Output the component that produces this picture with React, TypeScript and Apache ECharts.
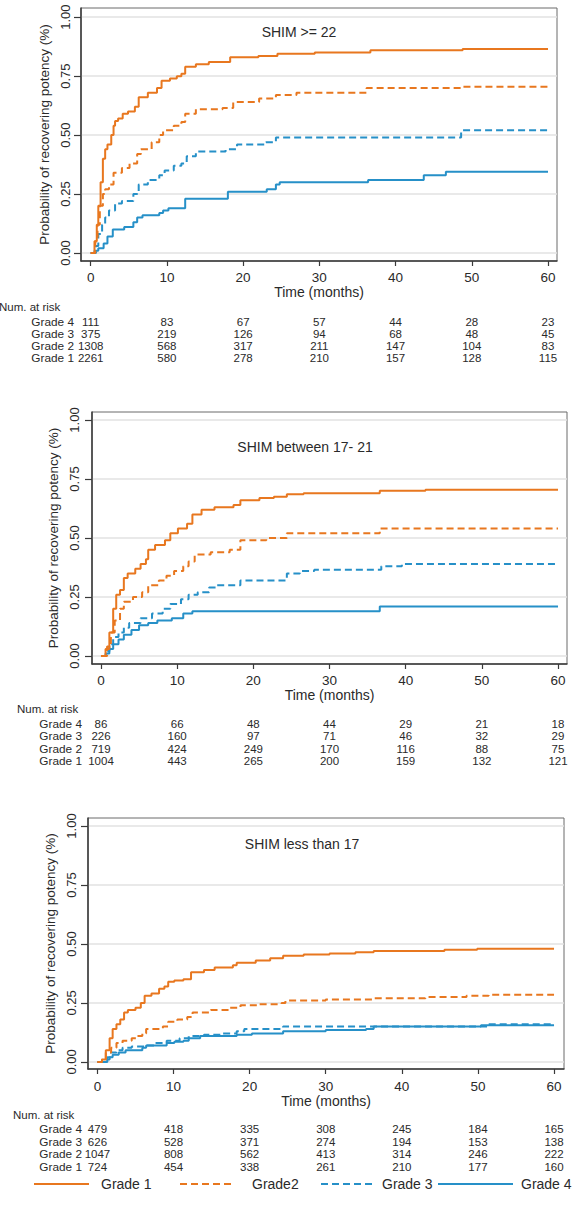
import React, { useEffect, useRef } from "react";
import * as echarts from "echarts";

const FONT = "'Liberation Sans', Arial, Helvetica, sans-serif";
const ORANGE = "#E8771F";
const BLUE = "#2690C8";
const TEXT = "#2a2a2a";

const gradeNames = ["Grade 1", "Grade 2", "Grade 3", "Grade 4"];
const riskTimes = [0, 10, 20, 30, 40, 50, 60];
const xTicks = [0, 10, 20, 30, 40, 50, 60];
const yTicks = [0, 0.25, 0.5, 0.75, 1];
const panelTitles = ["SHIM >= 22", "SHIM between 17- 21", "SHIM less than 17"];
const yTitle = "Probability of recovering potency (%)";
const xTitle = "Time (months)";
const riskTitle = "Num. at risk";

// Panel 1: SHIM >= 22  [months, probability]
const p1Grade1 = [[0,0],[0.5,0.05],[0.8,0.12],[1.0,0.2],[1.3,0.3],[1.6,0.4],[1.9,0.44],[2.2,0.46],[2.7,0.5],[3.0,0.54],[3.2,0.56],[3.6,0.57],[4.2,0.59],[4.9,0.6],[5.8,0.62],[6.3,0.66],[7.5,0.68],[8.7,0.7],[9.3,0.73],[10.4,0.74],[11.3,0.75],[11.9,0.76],[12.4,0.79],[13.8,0.8],[15.5,0.81],[18.3,0.83],[22,0.835],[24.5,0.845],[29.4,0.85],[36.7,0.86],[48.8,0.865],[60,0.867]];
const p1Grade2 = [[0,0],[0.6,0.05],[0.9,0.12],[1.2,0.2],[1.6,0.25],[1.9,0.27],[2.4,0.29],[3.0,0.34],[4.1,0.36],[5.1,0.38],[6.1,0.42],[6.6,0.44],[8.0,0.47],[9.0,0.5],[9.5,0.52],[10.9,0.54],[11.9,0.555],[12.4,0.59],[13.8,0.61],[17.3,0.615],[18.7,0.64],[22.1,0.655],[24.3,0.67],[27,0.68],[36.2,0.7],[48.6,0.705],[60,0.705]];
const p1Grade3 = [[0,0],[0.7,0.03],[1.0,0.08],[1.5,0.12],[1.9,0.15],[2.4,0.18],[3.2,0.21],[4.1,0.22],[5.6,0.25],[6.3,0.29],[7.5,0.31],[9.0,0.33],[9.7,0.35],[10.9,0.37],[11.9,0.38],[12.6,0.41],[13.8,0.43],[17.7,0.44],[19.2,0.46],[23,0.47],[24.3,0.49],[48.6,0.52],[60,0.52]];
const p1Grade4 = [[0,0],[0.5,0.01],[1.0,0.02],[1.7,0.04],[2.2,0.07],[2.9,0.1],[4.4,0.11],[5.6,0.13],[6.1,0.15],[6.8,0.16],[9.0,0.17],[9.5,0.18],[10.2,0.19],[12.4,0.23],[18,0.26],[23.1,0.27],[24.3,0.29],[24.8,0.3],[36.4,0.31],[43.7,0.33],[46.6,0.345],[60,0.345]];

// Panel 2: SHIM between 17-21
const p2Grade1 = [[0,0],[0.6,0.03],[1.1,0.1],[1.6,0.2],[2.0,0.26],[2.5,0.28],[3.0,0.33],[3.5,0.35],[4.5,0.37],[5.2,0.39],[5.9,0.41],[6.2,0.45],[7.1,0.47],[8.4,0.49],[9.1,0.52],[10.1,0.54],[11.3,0.56],[12.0,0.6],[13.2,0.62],[14.9,0.63],[17.4,0.64],[18.3,0.66],[20.8,0.67],[22.7,0.675],[24.4,0.685],[26.6,0.69],[36.6,0.7],[42.6,0.705],[60,0.705]];
const p2Grade2 = [[0,0],[0.8,0.04],[1.3,0.1],[1.8,0.15],[2.5,0.2],[3.0,0.23],[4.2,0.25],[5.4,0.27],[6.2,0.3],[7.6,0.32],[8.6,0.34],[9.6,0.36],[10.8,0.38],[11.5,0.4],[12.3,0.43],[14.4,0.44],[16.9,0.45],[18.3,0.49],[21.7,0.5],[24.4,0.52],[36.6,0.54],[60,0.54]];
const p2Grade3 = [[0,0],[0.7,0.02],[1.1,0.05],[1.6,0.08],[2.3,0.1],[3.0,0.12],[3.7,0.14],[5.2,0.16],[6.7,0.18],[8.1,0.2],[9.1,0.22],[10.5,0.24],[11.5,0.26],[12.7,0.27],[14.2,0.29],[15.2,0.3],[18.3,0.32],[24.4,0.35],[26.1,0.36],[28,0.365],[36.8,0.38],[39.5,0.39],[60,0.39]];
const p2Grade4 = [[0,0],[0.6,0.01],[1.1,0.03],[1.6,0.05],[2.3,0.07],[3.0,0.09],[4.0,0.11],[5.0,0.13],[6.2,0.14],[7.4,0.15],[9.3,0.16],[10.8,0.18],[12.0,0.19],[36.6,0.21],[60,0.21]];

// Panel 3: SHIM less than 17
const p3Grade1 = [[0,0],[0.6,0.01],[1.1,0.05],[1.6,0.1],[2.0,0.14],[2.5,0.16],[3.0,0.18],[3.5,0.21],[4.0,0.22],[5.0,0.23],[5.7,0.25],[6.2,0.28],[7.1,0.29],[8.1,0.31],[8.8,0.32],[9.3,0.34],[10.1,0.345],[11.3,0.35],[12.3,0.38],[14.0,0.39],[15.4,0.4],[17.8,0.41],[18.3,0.42],[20.8,0.43],[22.7,0.44],[24.4,0.45],[27.1,0.455],[30.5,0.46],[33.9,0.465],[36.3,0.47],[45.6,0.475],[49.9,0.48],[60,0.48]];
const p3Grade2 = [[0,0],[0.6,0.01],[1.1,0.04],[1.8,0.06],[2.5,0.08],[3.3,0.09],[4.5,0.1],[5.2,0.11],[5.9,0.12],[6.4,0.14],[8.6,0.15],[9.3,0.17],[10.5,0.18],[11.8,0.19],[12.5,0.21],[14.9,0.22],[17.4,0.23],[18.8,0.24],[21.2,0.245],[24.2,0.25],[24.7,0.26],[30,0.265],[36.3,0.27],[43.1,0.275],[48.5,0.28],[51.4,0.285],[60,0.285]];
const p3Grade3 = [[0,0],[0.8,0.01],[1.3,0.02],[1.8,0.04],[2.5,0.05],[3.3,0.06],[4.5,0.065],[6.2,0.07],[7.6,0.08],[9.1,0.09],[10.8,0.1],[12.0,0.11],[14.0,0.115],[16.4,0.12],[18.3,0.13],[19.3,0.14],[24.2,0.145],[24.4,0.15],[51.4,0.16],[60,0.16]];
const p3Grade4 = [[0,0],[1.3,0.01],[1.6,0.02],[2.0,0.03],[2.8,0.04],[3.7,0.05],[5.9,0.06],[6.4,0.07],[9.1,0.08],[10.1,0.085],[11.3,0.09],[12.0,0.1],[13.5,0.11],[18.3,0.115],[20.3,0.12],[24.4,0.13],[30,0.135],[35.3,0.14],[36.3,0.15],[50.4,0.155],[60,0.155]];

// Numbers at risk
const p1RiskGrade4 = [111, 83, 67, 57, 44, 28, 23];
const p1RiskGrade3 = [375, 219, 126, 94, 68, 48, 45];
const p1RiskGrade2 = [1308, 568, 317, 211, 147, 104, 83];
const p1RiskGrade1 = [2261, 580, 278, 210, 157, 128, 115];
const p2RiskGrade4 = [86, 66, 48, 44, 29, 21, 18];
const p2RiskGrade3 = [226, 160, 97, 71, 46, 32, 29];
const p2RiskGrade2 = [719, 424, 249, 170, 116, 88, 75];
const p2RiskGrade1 = [1004, 443, 265, 200, 159, 132, 121];
const p3RiskGrade4 = [479, 418, 335, 308, 245, 184, 165];
const p3RiskGrade3 = [626, 528, 371, 274, 194, 153, 138];
const p3RiskGrade2 = [1047, 808, 562, 413, 314, 246, 222];
const p3RiskGrade1 = [724, 454, 338, 261, 210, 177, 160];

const curves = [
  [p1Grade1, p1Grade2, p1Grade3, p1Grade4],
  [p2Grade1, p2Grade2, p2Grade3, p2Grade4],
  [p3Grade1, p3Grade2, p3Grade3, p3Grade4],
];
const risks = [
  [p1RiskGrade1, p1RiskGrade2, p1RiskGrade3, p1RiskGrade4],
  [p2RiskGrade1, p2RiskGrade2, p2RiskGrade3, p2RiskGrade4],
  [p3RiskGrade1, p3RiskGrade2, p3RiskGrade3, p3RiskGrade4],
];

// layout (pixels)
const layout = [
  { left: 81, top: 8, width: 476, height: 253, xMin: -1.27, xMax: 61.18, yMin: -0.034, yMax: 1.039,
    riskTop: 316, riskH: 48, riskMargin: 7, title: [299, 32], num: [-1, 307], yLabGap: 9, yNameGap: 24, xLabGap: 9, xNameGap: 23 },
  { left: 92, top: 412, width: 475, height: 252, xMin: -1.18, xMax: 61.18, yMin: -0.034, yMax: 1.034,
    riskTop: 718, riskH: 49, riskMargin: 10, title: [305, 447], num: [17, 709], yLabGap: 11, yNameGap: 25, xLabGap: 9, xNameGap: 22 },
  { left: 88, top: 818, width: 476, height: 251, xMin: -1.24, xMax: 61.31, yMin: -0.03, yMax: 1.034,
    riskTop: 1123, riskH: 50, riskMargin: 6, title: [302, 844], num: [13, 1115], yLabGap: 10, yNameGap: 24, xLabGap: 10, xNameGap: 24 },
];

const gradeStyle = [
  { color: ORANGE, type: "solid" },
  { color: ORANGE, type: [7, 4] },
  { color: BLUE, type: [7, 4] },
  { color: BLUE, type: "solid" },
];

function buildOption() {
  const grid: any[] = [];
  const xAxis: any[] = [];
  const yAxis: any[] = [];
  const series: any[] = [];
  const graphic: any[] = [];

  layout.forEach((L, p) => {
    grid.push({
      left: L.left, top: L.top, width: L.width, height: L.height,
      show: true, borderColor: "#6a6a6a", borderWidth: 1, backgroundColor: "transparent",
      containLabel: false,
    });
    xAxis.push({
      type: "value", gridIndex: p, min: L.xMin, max: L.xMax,
      name: xTitle, nameLocation: "middle", nameGap: L.xNameGap,
      nameTextStyle: { fontFamily: FONT, fontSize: 14, color: TEXT },
      axisLine: { show: true, onZero: false, lineStyle: { color: "#3a3a3a", width: 1.5 } },
      axisTick: { show: true, length: 5, customValues: xTicks, lineStyle: { color: "#3a3a3a", width: 1.2 } },
      axisLabel: { show: true, customValues: xTicks, margin: L.xLabGap, fontFamily: FONT, fontSize: 13.5, color: TEXT,
        formatter: (v: number) => String(Math.round(v)) },
      splitLine: { show: false },
    });
    yAxis.push({
      type: "value", gridIndex: p, min: L.yMin, max: L.yMax,
      name: yTitle, nameLocation: "middle", nameGap: L.yNameGap, nameRotate: 90,
      nameTextStyle: { fontFamily: FONT, fontSize: 13.5, color: TEXT },
      axisLine: { show: true, onZero: false, lineStyle: { color: "#3a3a3a", width: 1.5 } },
      axisTick: { show: true, length: 7, customValues: yTicks, lineStyle: { color: "#3a3a3a", width: 1.2 } },
      axisLabel: { show: true, customValues: yTicks, rotate: 90, margin: L.yLabGap, fontFamily: FONT, fontSize: 13, color: TEXT,
        formatter: (v: number) => v.toFixed(2) },
      splitLine: { show: true, lineStyle: { color: "#e2e2e2", width: 1.5 } },
    });
    curves[p].forEach((data, g) => {
      series.push({
        type: "line", name: gradeNames[g], xAxisIndex: p, yAxisIndex: p,
        data, step: "end", symbol: "none", showSymbol: false, silent: true,
        lineStyle: { color: gradeStyle[g].color, type: gradeStyle[g].type, width: 2 },
        itemStyle: { color: gradeStyle[g].color },
        z: 5 - g,
      });
    });
    graphic.push({
      type: "text", x: L.title[0], y: L.title[1],
      style: { text: panelTitles[p], fontFamily: FONT, fontSize: 14, fill: TEXT, align: "center", verticalAlign: "middle" },
    });
    graphic.push({
      type: "text", x: L.num[0], y: L.num[1],
      style: { text: riskTitle, fontFamily: FONT, fontSize: 11.5, fill: TEXT, align: "left", verticalAlign: "middle" },
    });
  });

  // risk tables
  layout.forEach((L, p) => {
    const gi = 3 + p;
    grid.push({ left: L.left, top: L.riskTop, width: L.width, height: L.riskH, show: false });
    xAxis.push({ type: "value", gridIndex: gi, min: L.xMin, max: L.xMax, show: false });
    yAxis.push({
      type: "category", gridIndex: gi, data: gradeNames,
      axisLine: { show: false }, axisTick: { show: false }, splitLine: { show: false },
      axisLabel: { show: true, interval: 0, margin: L.riskMargin, fontFamily: FONT, fontSize: 11.8, color: TEXT },
    });
    risks[p].forEach((vals, g) => {
      series.push({
        type: "scatter", name: "risk" + p + g, xAxisIndex: gi, yAxisIndex: gi,
        data: vals.map((n, i) => [riskTimes[i], gradeNames[g], n]),
        symbolSize: 1, itemStyle: { color: "rgba(0,0,0,0)" }, silent: true,
        label: { show: true, position: "inside", formatter: (q: any) => String(q.value[2]),
          fontFamily: FONT, fontSize: 11.5, color: TEXT, opacity: 1 },
        labelLayout: { hideOverlap: false },
      });
    });
  });

  const legendCfg = [
    { name: "Grade 1", left: 33, w: 55, pad: 7 },
    { name: "Grade 2", left: 179, w: 55, pad: 12 },
    { name: "Grade 3", left: 320, w: 53, pad: 3 },
    { name: "Grade 4", left: 437, w: 75, pad: 3 },
  ];
  const legend = legendCfg.map((c) => ({
    data: [c.name], left: c.left, top: 1177, itemWidth: c.w, itemHeight: 14, padding: 0,
    selectedMode: false,
    itemStyle: { color: "rgba(0,0,0,0)", borderColor: "rgba(0,0,0,0)", borderWidth: 0 },
    formatter: (n: string) => (n === "Grade 2" ? "Grade2" : n),
    textStyle: { fontFamily: FONT, fontSize: 14, color: TEXT, padding: [0, 0, 0, c.pad] },
  }));

  return {
    animation: false,
    backgroundColor: "#ffffff",
    textStyle: { fontFamily: FONT },
    grid, xAxis, yAxis, series, graphic, legend,
  };
}

export default function App() {
  const ref = useRef<HTMLDivElement>(null);
  useEffect(() => {
    if (!ref.current) return;
    const chart = echarts.init(ref.current, null, { renderer: "svg" });
    chart.setOption(buildOption() as any);
    return () => chart.dispose();
  }, []);
  return (
    <div
      ref={ref}
      style={{ position: "absolute", left: 0, top: 0, width: 575, height: 1205, background: "#fff" }}
    />
  );
}
